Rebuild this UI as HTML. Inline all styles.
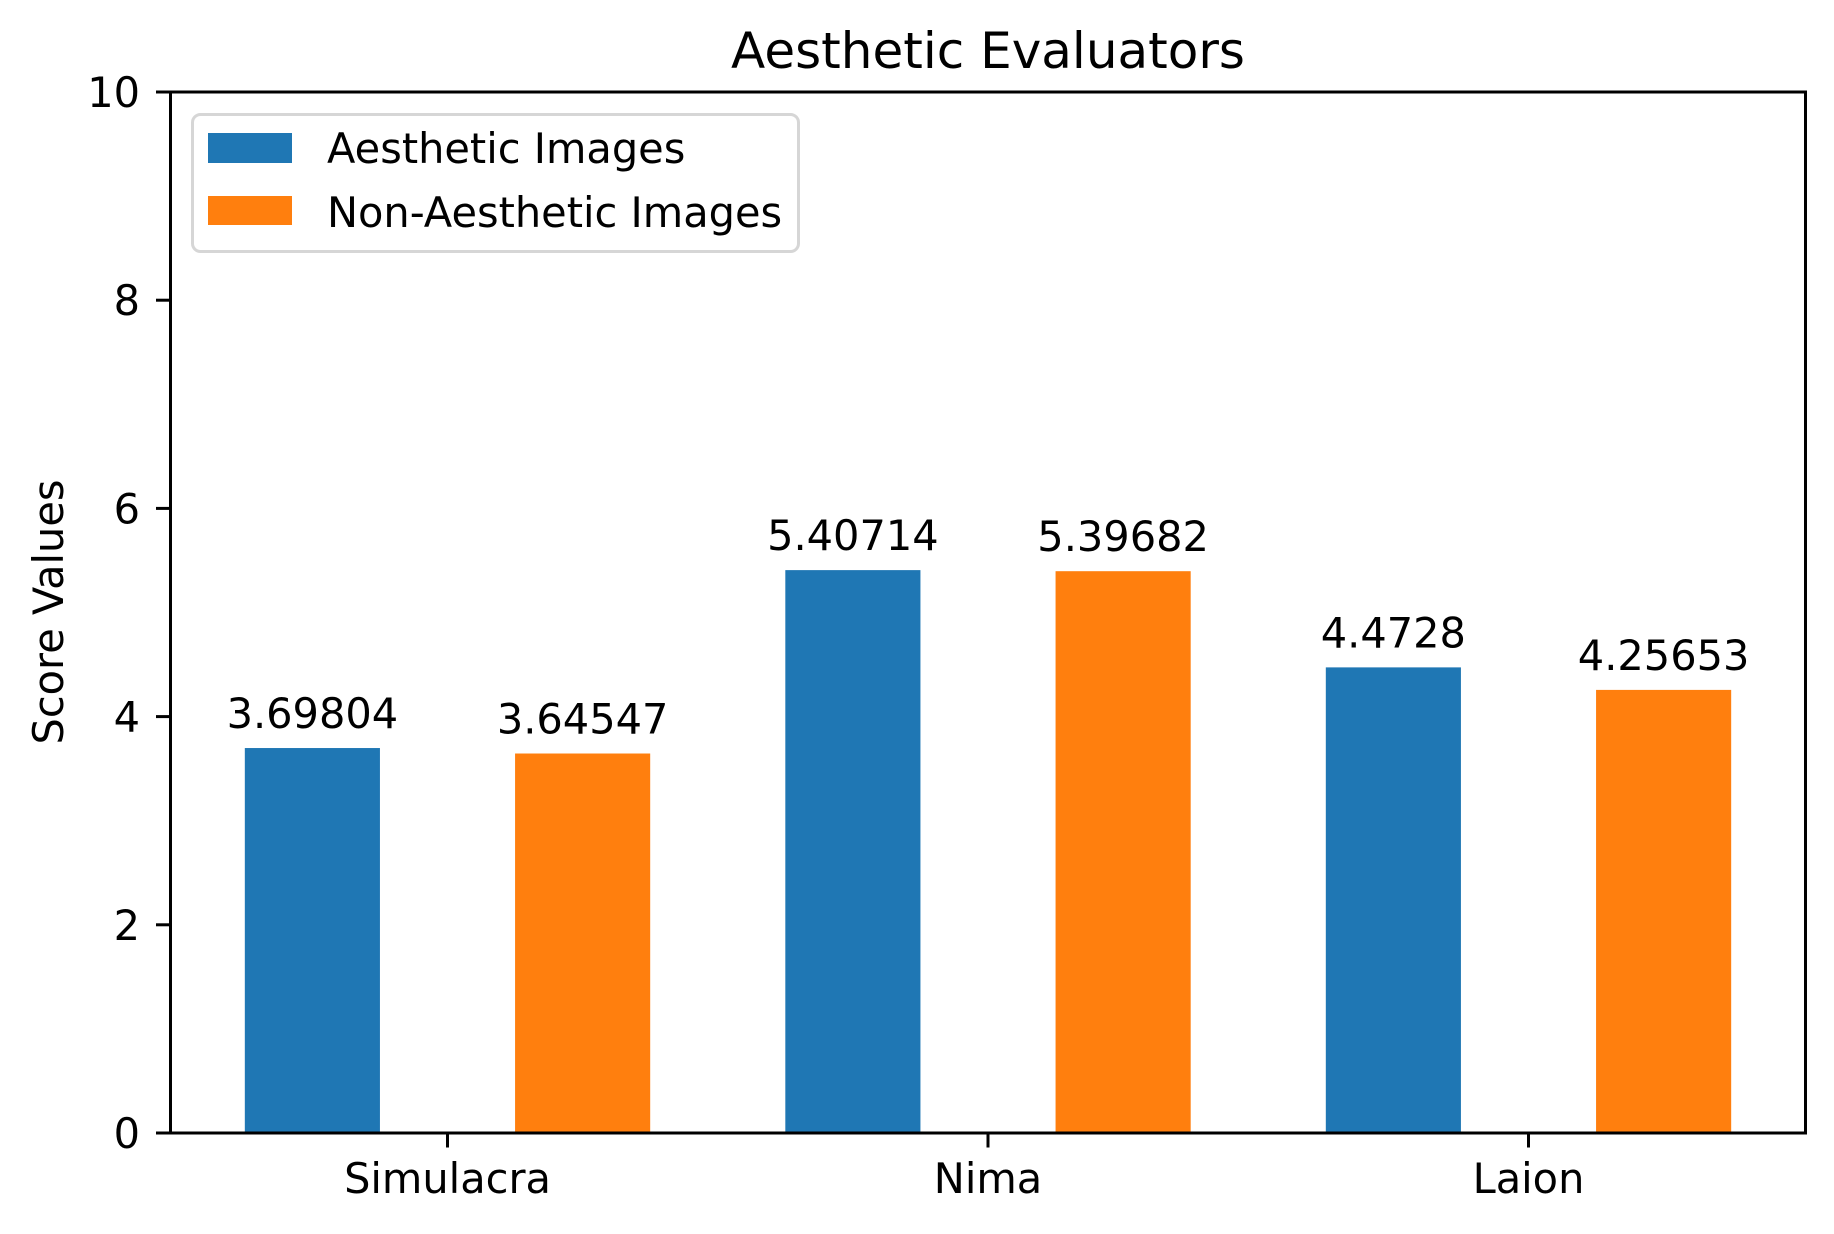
<!DOCTYPE html>
<html><head><meta charset="utf-8"><style>
html,body{margin:0;padding:0;background:#fff}
svg{display:block;font-family:"DejaVu Sans","Liberation Sans",sans-serif}
</style></head><body>
<svg id="chart" width="1834" height="1234" viewBox="0 0 1834 1234" xmlns="http://www.w3.org/2000/svg">
<rect width="1834" height="1234" fill="#fff"/>
<text x="988" y="68" font-size="50" text-anchor="middle">Aesthetic Evaluators</text>
<text transform="translate(63,612) rotate(-90)" font-size="41.5" text-anchor="middle">Score Values</text>
<g id="bars"></g>
<g id="axes"></g>
<g>
<rect x="192.5" y="114.5" width="606" height="137" rx="8" fill="#fff" fill-opacity="0.8" stroke="#d6d6d6" stroke-width="3"/>
<rect x="208" y="133" width="84" height="30" fill="#1f77b4"/>
<text x="327" y="163" font-size="41.5">Aesthetic Images</text>
<rect x="208" y="196" width="84" height="29" fill="#ff7f0e"/>
<text x="327" y="227" font-size="41.5">Non-Aesthetic Images</text>
</g>
</svg>
<script>
const categories = ["Simulacra", "Nima", "Laion"];
const aestheticValues = [3.69804, 5.40714, 4.4728];
const nonAestheticValues = [3.64547, 5.39682, 4.25653];
const yTicks = [0, 2, 4, 6, 8, 10];

const NS = "http://www.w3.org/2000/svg";
const L = 170.5, R = 1805.5, T = 92, B = 1133;
const xmin = -0.5125, xmax = 2.5125, ymin = 0, ymax = 10;
const xs = v => L + (v - xmin) / (xmax - xmin) * (R - L);
const ys = v => B - (v - ymin) / (ymax - ymin) * (B - T);
const W = 0.25;
function mk(tag, attrs, parent, txt) {
  const e = document.createElementNS(NS, tag);
  for (const k in attrs) e.setAttribute(k, attrs[k]);
  if (txt !== undefined) e.textContent = txt;
  parent.appendChild(e);
  return e;
}
const bars = document.getElementById('bars');
const axes = document.getElementById('axes');
const series = [[aestheticValues, '#1f77b4', -W, 'aesthetic'], [nonAestheticValues, '#ff7f0e', W, 'non-aesthetic']];
series.forEach(([vals, col, off, nm]) => {
  vals.forEach((v, i) => {
    const x0 = xs(i + off - W / 2), x1 = xs(i + off + W / 2);
    const r = mk('rect', {x: x0, y: ys(v), width: x1 - x0, height: ys(0) - ys(v), fill: col}, bars);
    
    
    const t = mk('text', {x: (x0 + x1) / 2, y: ys(v) - 20, 'font-size': 41.5, 'text-anchor': 'middle'}, bars, String(v));
    
    
  });
});
yTicks.forEach(v => {
  const y = ys(v);
  const l = mk('line', {x1: L - 14.5, x2: L, y1: y, y2: y, stroke: '#000', 'stroke-width': 3}, axes);
  
  
  const t = mk('text', {x: 140, y: y + 15, 'font-size': 41.5, 'text-anchor': 'end'}, axes, String(v));
  
  
});
categories.forEach((c, i) => {
  const x = xs(i);
  const l = mk('line', {x1: x, x2: x, y1: B, y2: B + 14.5, stroke: '#000', 'stroke-width': 3}, axes);
  
  
  const t = mk('text', {x: x, y: 1193, 'font-size': 41.5, 'text-anchor': 'middle'}, axes, c);
  
  
});
const frame = mk('rect', {x: L, y: T, width: R - L, height: B - T, fill: 'none', stroke: '#000', 'stroke-width': 3}, axes);


</script>
</body></html>
